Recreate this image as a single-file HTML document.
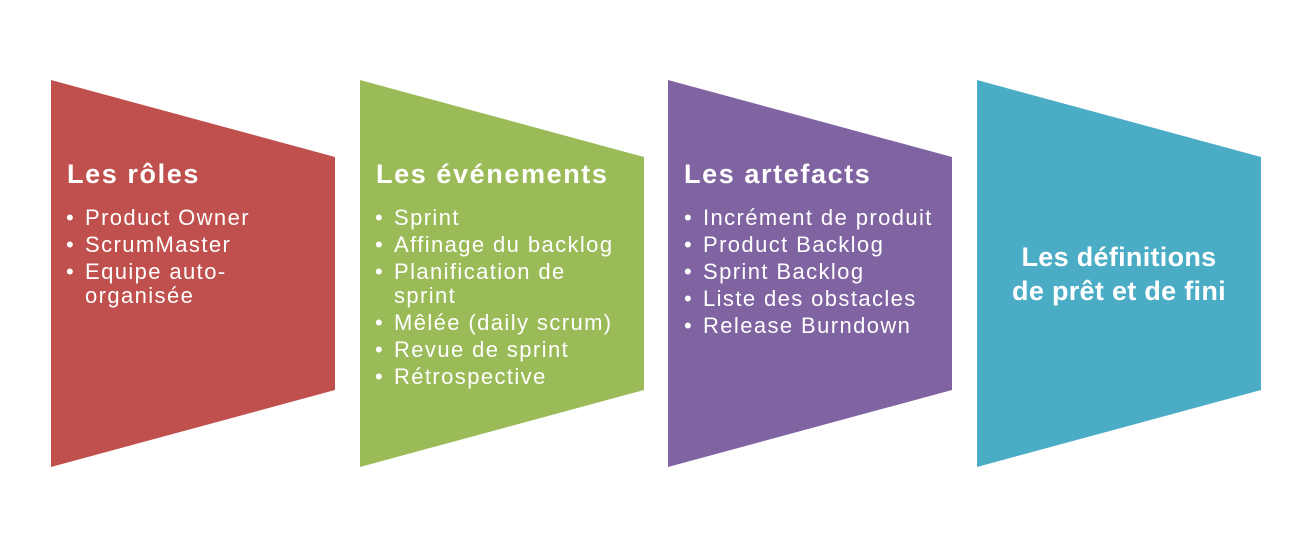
<!DOCTYPE html>
<html><head><meta charset="utf-8"><style>
html,body{margin:0;padding:0;background:#fff;}
svg{display:block}
text{font-family:"Liberation Sans",sans-serif;fill:#fff}
.t{font-weight:bold;font-size:27px;letter-spacing:1.6px}
.t2{font-weight:bold;font-size:27px;letter-spacing:0.3px}
.b{font-size:22px;letter-spacing:1.4px}
</style></head><body>
<svg width="1305" height="534" viewBox="0 0 1305 534">
<polygon points="51,80 335,157 335,390 51,467" fill="#C0504D"/>
<polygon points="360,80 644,157 644,390 360,467" fill="#9BBB59"/>
<polygon points="668,80 952,157 952,390 668,467" fill="#8064A2"/>
<polygon points="977,80 1261,157 1261,390 977,467" fill="#4BACC6"/>

<text class="t" x="67" y="183">Les rôles</text>
<text class="b" x="66" y="225">•</text><text class="b" x="85" y="225">Product Owner</text>
<text class="b" x="66" y="252">•</text><text class="b" x="85" y="252">ScrumMaster</text>
<text class="b" x="66" y="279">•</text><text class="b" x="85" y="279">Equipe auto-</text>
<text class="b" x="85" y="303">organisée</text>

<text class="t" x="376" y="183">Les événements</text>
<text class="b" x="375" y="225">•</text><text class="b" x="394" y="225">Sprint</text>
<text class="b" x="375" y="252">•</text><text class="b" x="394" y="252">Affinage du backlog</text>
<text class="b" x="375" y="279">•</text><text class="b" x="394" y="279">Planification de</text>
<text class="b" x="394" y="303">sprint</text>
<text class="b" x="375" y="330">•</text><text class="b" x="394" y="330">Mêlée (daily scrum)</text>
<text class="b" x="375" y="357">•</text><text class="b" x="394" y="357">Revue de sprint</text>
<text class="b" x="375" y="384">•</text><text class="b" x="394" y="384">Rétrospective</text>

<text class="t" x="684" y="183">Les artefacts</text>
<text class="b" x="684" y="225">•</text><text class="b" x="703" y="225">Incrément de produit</text>
<text class="b" x="684" y="252">•</text><text class="b" x="703" y="252">Product Backlog</text>
<text class="b" x="684" y="279">•</text><text class="b" x="703" y="279">Sprint Backlog</text>
<text class="b" x="684" y="306">•</text><text class="b" x="703" y="306">Liste des obstacles</text>
<text class="b" x="684" y="333">•</text><text class="b" x="703" y="333">Release Burndown</text>

<text class="t2" x="1119" y="266" text-anchor="middle">Les définitions</text>
<text class="t2" x="1119" y="300" text-anchor="middle">de prêt et de fini</text>
</svg>
</body></html>
